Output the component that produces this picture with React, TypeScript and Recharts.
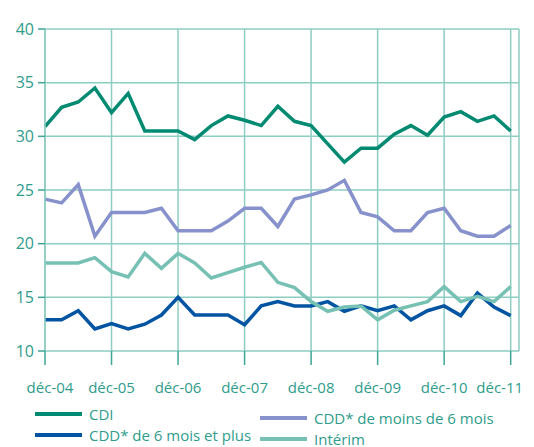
import { LineChart, Line, XAxis, YAxis, CartesianGrid } from 'recharts'

const TEAL_TEXT = '#2f9c8c'
const GRID = '#8ecdc2'

const yearLabels = ['déc-04', 'déc-05', 'déc-06', 'déc-07', 'déc-08', 'déc-09', 'déc-10', 'déc-11']

const cdi = [30.9, 32.7, 33.2, 34.5, 32.2, 34.0, 30.5, 30.5, 30.5, 29.7, 31.0, 31.9, 31.5, 31.0, 32.8, 31.4, 31.0, 29.3, 27.6, 28.9, 28.9, 30.2, 31.0, 30.1, 31.8, 32.3, 31.4, 31.9, 30.5]
const cddPlus6 = [12.9, 12.9, 13.75, 12.05, 12.55, 12.05, 12.5, 13.35, 15.0, 13.35, 13.35, 13.35, 12.45, 14.2, 14.6, 14.2, 14.2, 14.6, 13.7, 14.2, 13.75, 14.2, 12.9, 13.75, 14.2, 13.3, 15.4, 14.1, 13.3]
const cddMoins6 = [24.15, 23.8, 25.5, 20.7, 22.9, 22.9, 22.9, 23.3, 21.2, 21.2, 21.2, 22.1, 23.3, 23.3, 21.6, 24.15, 24.55, 25.0, 25.9, 22.9, 22.5, 21.2, 21.2, 22.9, 23.3, 21.2, 20.7, 20.7, 21.7]
const interim = [18.2, 18.2, 18.2, 18.7, 17.4, 16.9, 19.1, 17.7, 19.1, 18.2, 16.8, 17.3, 17.8, 18.25, 16.4, 15.9, 14.6, 13.7, 14.1, 14.2, 12.9, 13.8, 14.2, 14.6, 16.0, 14.6, 15.1, 14.6, 16.0]

const series = [
  { key: 'cdi', name: 'CDI', color: '#008a72' },
  { key: 'cddPlus6', name: 'CDD* de 6 mois et plus', color: '#0054a2' },
  { key: 'cddMoins6', name: 'CDD* de moins de 6 mois', color: '#8791cb' },
  { key: 'interim', name: 'Intérim', color: '#76c1b3' },
]

const data = cdi.map((v, i) => ({
  i,
  cdi: v,
  cddPlus6: cddPlus6[i],
  cddMoins6: cddMoins6[i],
  interim: interim[i],
}))

const xTicks = yearLabels.map((_, k) => k * 4)

const XTick = ({ x, y, payload, index }: any) => {
  const shift = index === 0 ? 5 : index === yearLabels.length - 1 ? -11 : 0
  return (
    <text x={x + shift} y={y} dy="0.71em" textAnchor="middle" fill={TEAL_TEXT} fontSize={15}>
      {yearLabels[payload.value / 4]}
    </text>
  )
}

const LegendItem = ({ s }: { s: (typeof series)[number] }) => (
  <div style={{ display: 'flex', alignItems: 'center', height: 21 }}>
    <span style={{ display: 'inline-block', width: 47, height: 4, background: s.color, marginRight: 7 }} />
    <span>{s.name}</span>
  </div>
)

export default function App() {
  return (
    <div style={{ position: 'relative', width: 526, height: 439, fontFamily: 'Open Sans', color: TEAL_TEXT }}>
      <LineChart width={526} height={439} data={data} margin={{ top: 21, right: 15, bottom: 46, left: 0 }}>
        <CartesianGrid stroke={GRID} strokeWidth={1.5} />
        <XAxis
          dataKey="i"
          type="number"
          domain={[0, 28.5]}
          ticks={xTicks}
          axisLine={false}
          tickSize={14}
          tickLine={{ stroke: '#3ea595', strokeWidth: 1.5 }}
          tickMargin={17}
          tick={<XTick />}
          height={50}
          interval={0}
        />
        <YAxis
          domain={[10, 40]}
          ticks={[10, 15, 20, 25, 30, 35, 40]}
          width={37}
          tickSize={7}
          axisLine={{ stroke: GRID, strokeWidth: 1.5 }}
          tickLine={{ stroke: '#3ea595', strokeWidth: 1.5 }}
          tick={{ fill: TEAL_TEXT, fontSize: 16 }}
          tickMargin={4}
        />
        {series.map(s => (
          <Line
            key={s.key}
            dataKey={s.key}
            name={s.name}
            stroke={s.color}
            strokeWidth={3.5}
            dot={false}
            type="linear"
            isAnimationActive={false}
          />
        ))}
      </LineChart>
      <div style={{ position: 'absolute', left: 27, top: 395, fontSize: 15 }}>
        <LegendItem s={series[0]} />
        <LegendItem s={series[1]} />
      </div>
      <div style={{ position: 'absolute', left: 252, top: 399, fontSize: 15 }}>
        <LegendItem s={series[2]} />
        <LegendItem s={series[3]} />
      </div>
    </div>
  )
}
